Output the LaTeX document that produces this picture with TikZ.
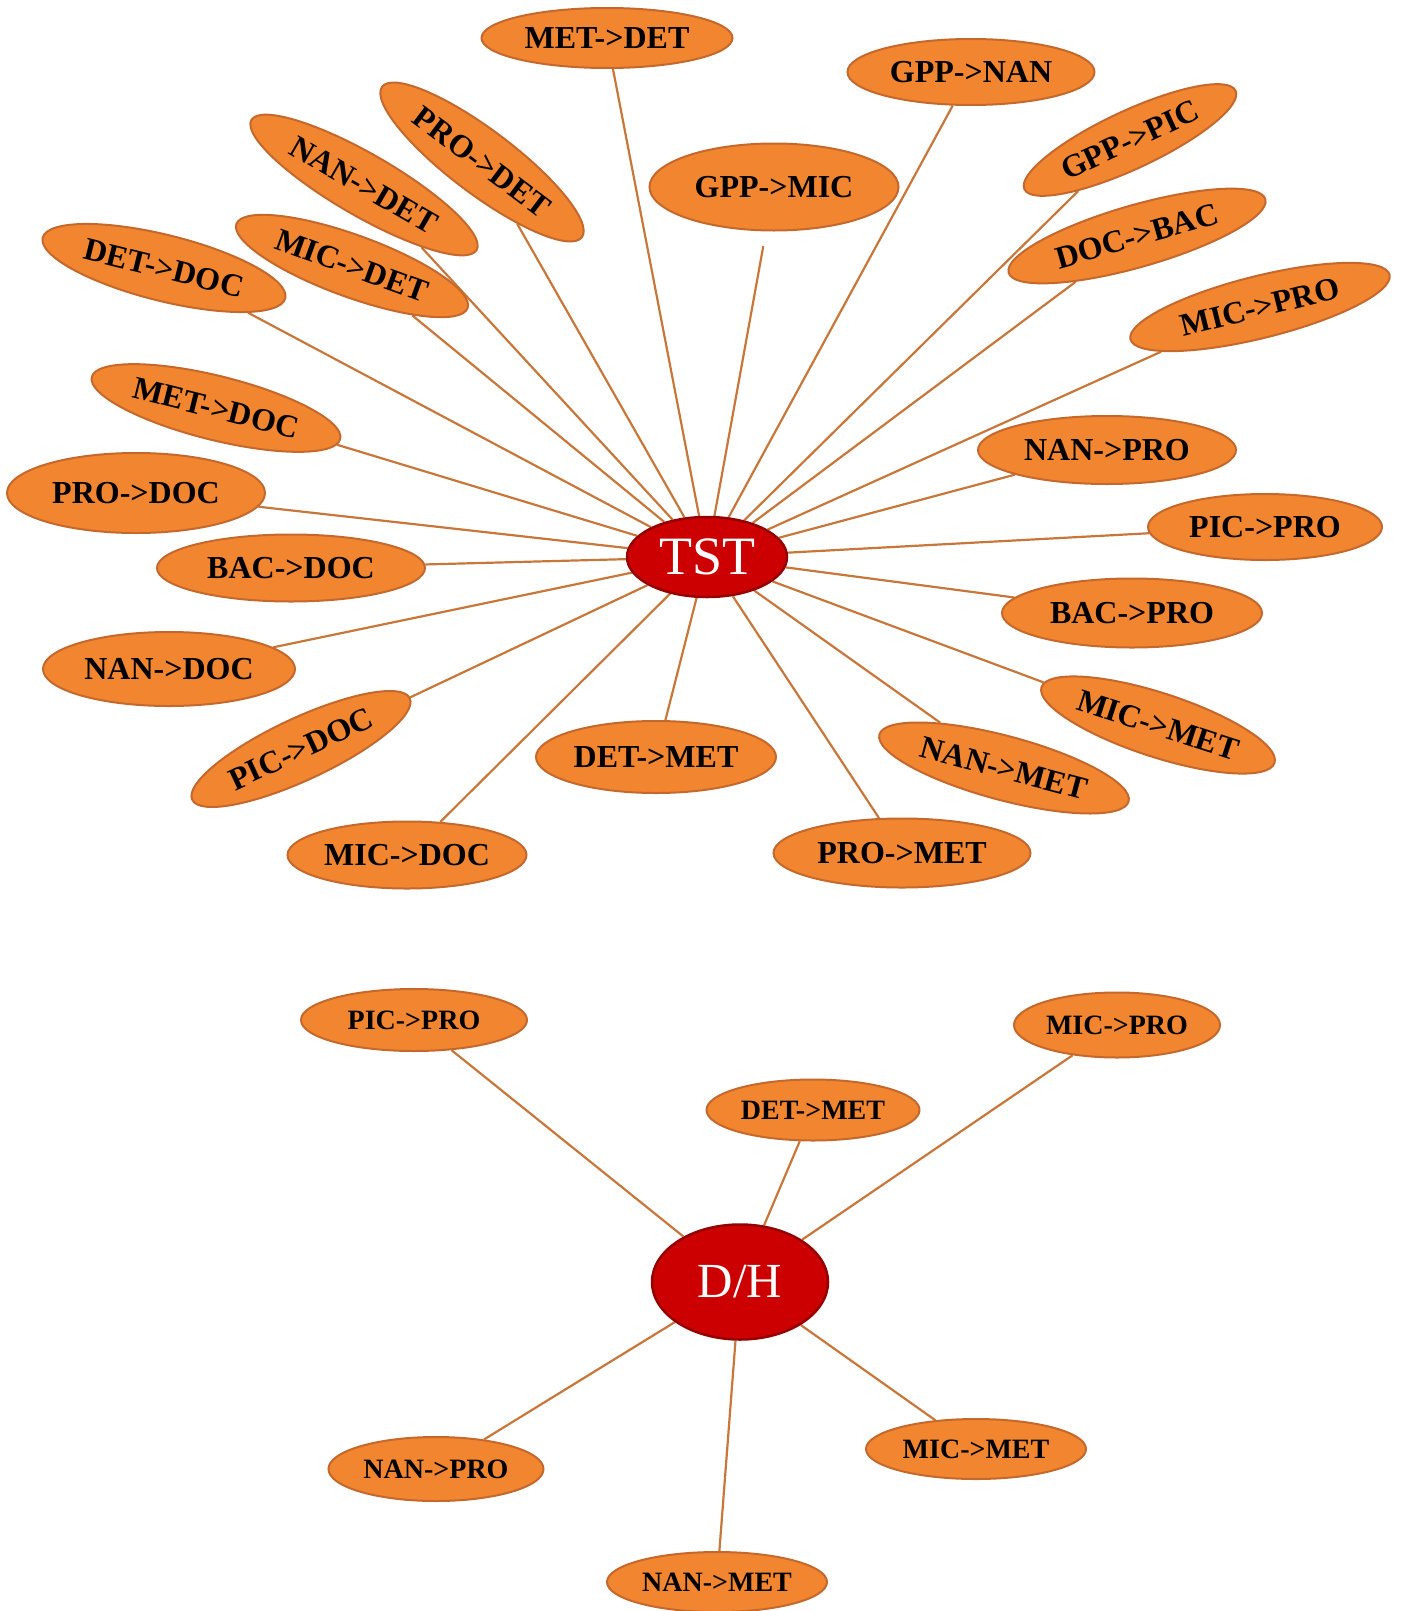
\documentclass[tikz,border=0pt]{standalone}
\usepackage{fontspec}
\setmainfont{Liberation Serif}
\usetikzlibrary{shapes.geometric,backgrounds}
\definecolor{orf}{HTML}{F28530}
\definecolor{ord}{HTML}{C4682C}
\definecolor{redf}{HTML}{CC0000}
\definecolor{redd}{HTML}{950000}
\definecolor{lnk}{HTML}{C8773A}
\tikzset{
  leaf/.style={ellipse, fill=orf, draw=ord, line width=2pt, inner sep=0pt,
    font=\bfseries\fontsize{32}{32}\selectfont, text=black},
  sleaf/.style={leaf, font=\bfseries\fontsize{28}{28}\selectfont},
  hub/.style={ellipse, fill=redf, draw=redd, line width=2.5pt, inner sep=0pt, text=white},
  link/.style={draw=lnk, line width=2.2pt},
}
\begin{document}
\begin{tikzpicture}[x=1pt,y=-1pt]
\useasboundingbox (0,0) rectangle (1400,1611);
% ---------- top hub ----------
\node[hub, minimum width=160pt, minimum height=80pt, font=\fontsize{54}{54}\selectfont] (tst) at (707,557) {TST};
\node[leaf, minimum width=251pt, minimum height=60pt] (n1) at (607,38) {MET->DET};
\node[leaf, minimum width=247pt, minimum height=66pt] (n2) at (971,72) {GPP->NAN};
\node[leaf, minimum width=249pt, minimum height=87pt] (n3) at (774,187) {GPP->MIC};
\node[leaf, rotate=-37, minimum width=250pt, minimum height=64pt] (n4) at (482,162) {PRO->DET};
\node[leaf, rotate=-30, minimum width=260pt, minimum height=62pt] (n5) at (364,185) {NAN->DET};
\node[leaf, rotate=-20, minimum width=246pt, minimum height=62pt] (n6) at (352,266) {MIC->DET};
\node[leaf, rotate=-14, minimum width=250pt, minimum height=66pt] (n7) at (164,268) {DET->DOC};
\node[leaf, rotate=-14, minimum width=256pt, minimum height=64pt] (n8) at (216,408) {MET->DOC};
\node[leaf, minimum width=258pt, minimum height=80pt] (n9) at (136,493) {PRO->DOC};
\node[leaf, minimum width=268pt, minimum height=67pt] (n10) at (291,568) {BAC->DOC};
\node[leaf, minimum width=252pt, minimum height=74pt] (n11) at (169,669) {NAN->DOC};
\node[leaf, rotate=25, minimum width=240pt, minimum height=62pt] (n12) at (301,749) {PIC->DOC};
\node[leaf, minimum width=239pt, minimum height=67pt] (n13) at (407,855) {MIC->DOC};
\node[leaf, minimum width=240pt, minimum height=72pt] (n14) at (656,757) {DET->MET};
\node[leaf, minimum width=257pt, minimum height=69pt] (n15) at (902,853) {PRO->MET};
\node[leaf, rotate=-15, minimum width=258pt, minimum height=64pt] (n16) at (1004,768) {NAN->MET};
\node[leaf, rotate=-18, minimum width=245pt, minimum height=64pt] (n17) at (1158,725) {MIC->MET};
\node[leaf, minimum width=260pt, minimum height=69pt] (n18) at (1132,613) {BAC->PRO};
\node[leaf, minimum width=234pt, minimum height=66pt] (n19) at (1265,527) {PIC->PRO};
\node[leaf, minimum width=258pt, minimum height=68pt] (n20) at (1107,450) {NAN->PRO};
\node[leaf, rotate=14, minimum width=267pt, minimum height=62pt] (n21) at (1260,307) {MIC->PRO};
\node[leaf, rotate=16, minimum width=267pt, minimum height=62pt] (n22) at (1137,236) {DOC->BAC};
\node[leaf, rotate=25, minimum width=233pt, minimum height=58pt] (n23) at (1130,140) {GPP->PIC};
% ---------- bottom hub ----------
\node[hub, minimum width=176pt, minimum height=115pt, font=\fontsize{49}{49}\selectfont] (dh) at (740,1282) {D/H};
\node[sleaf, minimum width=226pt, minimum height=62pt] (b1) at (414,1020) {PIC->PRO};
\node[sleaf, minimum width=206pt, minimum height=65pt] (b2) at (1117,1025) {MIC->PRO};
\node[sleaf, minimum width=213pt, minimum height=61pt] (b3) at (813,1110) {DET->MET};
\node[sleaf, minimum width=215pt, minimum height=64pt] (b4) at (436,1469) {NAN->PRO};
\node[sleaf, minimum width=220pt, minimum height=60pt] (b5) at (976,1449) {MIC->MET};
\node[sleaf, minimum width=220pt, minimum height=60pt] (b6) at (717,1582) {NAN->MET};
% ---------- connectors ----------
\begin{pgfonlayer}{background}
\foreach \n in {n1,n2,n4,n5,n6,n7,n8,n9,n10,n11,n12,n13,n14,n15,n16,n17,n18,n19,n20,n21,n22,n23}
  \draw[link] (tst) -- (\n);
\draw[link, shorten >=15pt] (tst) -- (n3);
\foreach \n in {b1,b2,b3,b4,b5,b6}
  \draw[link] (dh) -- (\n);
\end{pgfonlayer}
\end{tikzpicture}
\end{document}
